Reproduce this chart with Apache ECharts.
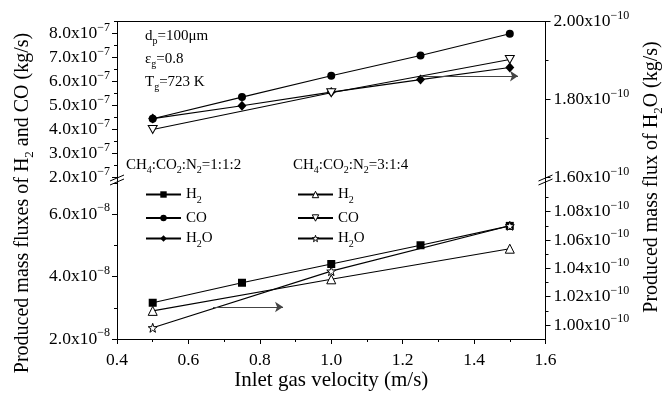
<!DOCTYPE html>
<html><head><meta charset="utf-8">
<script src="https://cdn.jsdelivr.net/npm/echarts@6/dist/echarts.min.js"></script>
<style>html,body{margin:0;padding:0;background:#fff}#c{width:669px;height:393px}</style>
</head><body><div id="c"></div>
<script>
// ---- data ----
const velocity112 = [0.5, 0.75, 1.0, 1.25, 1.5];
const velocity314 = [0.5, 1.0, 1.5];
const h2_112  = [3.16e-8, 3.80e-8, 4.40e-8, 5.00e-8, 5.62e-8];
const co_112  = [4.45e-7, 5.35e-7, 6.24e-7, 7.08e-7, 7.99e-7];
const h2o_112 = [1.751e-10, 1.784e-10, 1.819e-10, 1.851e-10, 1.882e-10];
const h2_314  = [2.90e-8, 3.91e-8, 4.89e-8];
const co_314  = [4.00e-7, 5.53e-7, 6.92e-7];
const h2o_314 = [0.998e-10, 1.038e-10, 1.070e-10];
// arrows (which axis the H2O curves belong to)
const arrowUpperX = [1.25, 1.523];
const arrowUpperY = 1.860e-10;
const arrowLowerX = [0.669, 0.865];
const arrowLowerY = 1.0127e-10;
// ticks
const upperLeftTicks  = [2e-7, 3e-7, 4e-7, 5e-7, 6e-7, 7e-7, 8e-7];
const upperLeftMinor  = [2.5e-7, 3.5e-7, 4.5e-7, 5.5e-7, 6.5e-7, 7.5e-7, 8.5e-7];
const upperRightTicks = [1.6e-10, 1.8e-10, 2.0e-10];
const upperRightMinor = [1.7e-10, 1.9e-10];
const lowerLeftTicks  = [2e-8, 4e-8, 6e-8];
const lowerLeftMinor  = [3e-8, 5e-8, 7e-8];
const lowerRightTicks = [1.00e-10, 1.02e-10, 1.04e-10, 1.06e-10, 1.08e-10];
const lowerRightMinor = [1.01e-10, 1.03e-10, 1.05e-10, 1.07e-10, 1.09e-10];

const SERIF = 'Liberation Serif';
function rich(size, small) {
  return {
    m: {fontFamily: SERIF, fontSize: size, lineHeight: size + 6, color: '#000'},
    s: {fontFamily: SERIF, fontSize: small, lineHeight: small, verticalAlign: 'bottom', color: '#000'},
    u: {fontFamily: SERIF, fontSize: small, lineHeight: small, verticalAlign: 'top', color: '#000'}
  };
}
function sciFmt(exp, digits) {
  return v => '{m|' + (v / Math.pow(10, exp)).toFixed(digits) + 'x10}{u|\u2212' + Math.abs(exp) + '}';
}
const zip = (xs, ys) => xs.map((x, i) => [x, ys[i]]);

const starPath = 'path://M0,-10 L2.351,-3.236 L9.511,-3.09 L3.804,1.236 L5.878,8.09 L0,4 L-5.878,8.09 L-3.804,1.236 L-9.511,-3.09 L-2.351,-3.236 Z';
const invTriPath = 'path://M0,0 L10,0 L5,9 Z';

const black = '#000';
function yAx(grid, pos, min, max, ticks, fmt, margin) {
  return {
    type: 'value', gridIndex: grid, position: pos, min: min, max: max,
    axisLine: {show: true, lineStyle: {color: black, width: 1}},
    axisTick: {show: true, length: 5, customValues: ticks, lineStyle: {color: black}},
    axisLabel: {show: true, customValues: ticks, formatter: fmt, margin: margin, rich: rich(17.5, 12)},
    splitLine: {show: false}
  };
}
function yMinor(grid, pos, min, max, ticks) {
  return {
    type: 'value', gridIndex: grid, position: pos, min: min, max: max,
    axisLine: {show: false},
    axisTick: {show: true, length: 3, customValues: ticks, lineStyle: {color: black}},
    axisLabel: {show: false}, splitLine: {show: false}
  };
}

const nameMap = {
  'H2 (1:1:2)': '{m|H}{s|2}', 'CO (1:1:2)': '{m|CO}', 'H2O (1:1:2)': '{m|H}{s|2}{m|O}',
  'H2 (3:1:4)': '{m|H}{s|2}', 'CO (3:1:4)': '{m|CO}', 'H2O (3:1:4)': '{m|H}{s|2}{m|O}'
};
const filled = {color: black, borderWidth: 0};
const hollow = {color: '#fff', borderColor: black, borderWidth: 1};
function ser(name, xs, ys, xi, yi, symbol, size, item) {
  return {
    name: name, type: 'line', xAxisIndex: xi, yAxisIndex: yi,
    data: zip(xs, ys), symbol: symbol, symbolSize: size, showSymbol: true,
    lineStyle: {color: black, width: 1.1}, itemStyle: item,
    emphasis: {disabled: true}, z: 3
  };
}
const series = [
  ser('H2 (1:1:2)', velocity112, h2_112, 1, 2, 'rect', 8, filled),
  ser('CO (1:1:2)', velocity112, co_112, 0, 0, 'circle', 8, filled),
  ser('H2O (1:1:2)', velocity112, h2o_112, 0, 1, 'diamond', [9, 10], filled),
  ser('H2 (3:1:4)', velocity314, h2_314, 1, 2, 'triangle', 9, hollow),
  ser('CO (3:1:4)', velocity314, co_314, 0, 0, invTriPath, [9, 8], hollow),
  ser('H2O (3:1:4)', velocity314, h2o_314, 1, 3, starPath, 9, hollow)
];
const arrowStyle = {color: '#444', width: 1, type: 'solid'};
series[2].markLine = {silent: true, symbol: ['none', 'arrow'], symbolSize: 8, label: {show: false}, lineStyle: arrowStyle,
  data: [[{coord: [arrowUpperX[0], arrowUpperY]}, {coord: [arrowUpperX[1], arrowUpperY]}]]};
series[5].markLine = {silent: true, symbol: ['none', 'arrow'], symbolSize: 8, label: {show: false}, lineStyle: arrowStyle,
  data: [[{coord: [arrowLowerX[0], arrowLowerY]}, {coord: [arrowLowerX[1], arrowLowerY]}]]};

function legend(items, left) {
  return {
    data: items, orient: 'vertical', left: left, top: 187, padding: 0,
    itemWidth: 35, itemHeight: 8, itemGap: 5.5, selectedMode: false,
    formatter: n => nameMap[n],
    textStyle: {fontFamily: SERIF, fontSize: 15, color: black, rich: rich(15, 10)}
  };
}
function txt(x, y, text, size, small, rot) {
  return {
    type: 'text', x: x, y: y, rotation: rot || 0, silent: true,
    style: {text: text, fill: black, font: size + 'px "' + SERIF + '"', rich: rich(size, small),
      align: rot ? 'center' : 'left', verticalAlign: 'middle'}
  };
}
function breakMark(x, y) {
  return [
    {type: 'line', silent: true, shape: {x1: x - 7, y1: y + 1, x2: x + 7, y2: y - 5}, style: {stroke: black, lineWidth: 1}},
    {type: 'line', silent: true, shape: {x1: x - 7, y1: y + 5, x2: x + 7, y2: y - 1}, style: {stroke: black, lineWidth: 1}}
  ];
}

const option = {
  animation: false,
  backgroundColor: '#fff',
  grid: [
    {left: 117, right: 123.5, top: 21.5, height: 156},
    {left: 117, right: 123.5, top: 177.5, height: 161.5}
  ],
  xAxis: [
    {type: 'value', gridIndex: 0, position: 'top', min: 0.4, max: 1.6,
      axisLine: {show: true, lineStyle: {color: black, width: 1}}, axisTick: {show: false}, axisLabel: {show: false}, splitLine: {show: false}},
    {type: 'value', gridIndex: 1, position: 'bottom', min: 0.4, max: 1.6, interval: 0.2,
      axisLine: {show: true, lineStyle: {color: black, width: 1}},
      axisTick: {show: true, length: 5, lineStyle: {color: black}},
      minorTick: {show: true, splitNumber: 2, length: 3, lineStyle: {color: black}},
      axisLabel: {formatter: v => v.toFixed(1), margin: 12, fontFamily: SERIF, fontSize: 17.5, color: black},
      splitLine: {show: false},
      name: 'Inlet gas velocity (m/s)', nameLocation: 'middle', nameGap: 31,
      nameTextStyle: {fontFamily: SERIF, fontSize: 21, color: black}}
  ],
  yAxis: [
    yAx(0, 'left', 2e-7, 8.5e-7, upperLeftTicks, sciFmt(-7, 1), 7),
    yAx(0, 'right', 1.6e-10, 2.0e-10, upperRightTicks, sciFmt(-10, 2), 8),
    yAx(1, 'left', 2e-8, 7.168e-8, lowerLeftTicks, sciFmt(-8, 1), 7),
    yAx(1, 'right', 0.9901e-10, 1.1041e-10, lowerRightTicks, sciFmt(-10, 2), 8),
    yMinor(0, 'left', 2e-7, 8.5e-7, upperLeftMinor),
    yMinor(0, 'right', 1.6e-10, 2.0e-10, upperRightMinor),
    yMinor(1, 'left', 2e-8, 7.168e-8, lowerLeftMinor),
    yMinor(1, 'right', 0.9901e-10, 1.1041e-10, lowerRightMinor)
  ],
  legend: [
    legend([
      {name: 'H2 (1:1:2)', itemStyle: filled},
      {name: 'CO (1:1:2)', itemStyle: filled},
      {name: 'H2O (1:1:2)', itemStyle: filled}
    ], 145),
    legend([
      {name: 'H2 (3:1:4)', itemStyle: hollow},
      {name: 'CO (3:1:4)', itemStyle: hollow},
      {name: 'H2O (3:1:4)', itemStyle: hollow}
    ], 297)
  ],
  series: series,
  graphic: [
    txt(145, 36, '{m|d}{s|p}{m|=100\u03bcm}', 15, 10),
    txt(145, 59, '{m|\u03b5}{s|g}{m|=0.8}', 15, 10),
    txt(145, 82, '{m|T}{s|g}{m|=723 K}', 15, 10),
    txt(126, 165, '{m|CH}{s|4}{m|:CO}{s|2}{m|:N}{s|2}{m|=1:1:2}', 15, 10),
    txt(293, 165, '{m|CH}{s|4}{m|:CO}{s|2}{m|:N}{s|2}{m|=3:1:4}', 15, 10),
    txt(23, 203, '{m|Produced mass fluxes of H}{s|2}{m| and CO (kg/s)}', 20, 13, Math.PI / 2),
    txt(652, 177, '{m|Produced mass flux of H}{s|2}{m|O (kg/s)}', 20, 13, Math.PI / 2)
  ].concat(breakMark(117, 180), breakMark(545.5, 180))
};
const chart = echarts.init(document.getElementById('c'), null, {renderer: 'canvas'});
chart.setOption(option);
</script></body></html>
